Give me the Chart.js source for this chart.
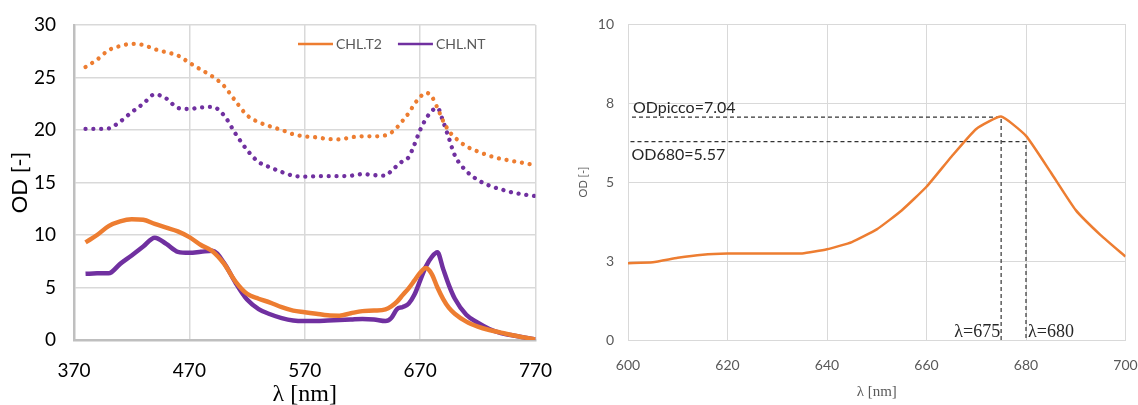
<!DOCTYPE html>
<html><head><meta charset="utf-8">
<script src="https://cdn.jsdelivr.net/npm/chart.js@4.4.1/dist/chart.umd.min.js"></script>
<style>
html,body{margin:0;padding:0;background:#fff;width:1138px;height:405px;overflow:hidden}
#left{position:absolute;left:0;top:0}
#right{position:absolute;left:570px;top:0}
</style></head><body>
<canvas id="left" width="570" height="405"></canvas>
<canvas id="right" width="568" height="405"></canvas>
<script>
// ---------- LEFT CHART DATA ----------
const wlLeft = [380,390,400,410,420,430,440,450,460,470,480,490,500,510,520,530,540,550,560,570,580,590,600,610,620,630,640,
  645,650,655,660,665,670,675,680,685,690,695,700,
  710,720,730,740,750,760,770];
const chlT2 = [9.3,10.0,10.85,11.3,11.5,11.45,11.05,10.7,10.35,9.8,9.05,8.45,7.27,5.57,4.4,3.93,3.57,3.13,2.8,2.65,2.5,2.35,2.32,2.55,2.75,2.8,2.92,
  3.2,3.65,4.3,4.92,5.65,6.4,6.85,6.3,5.0,3.9,3.05,2.5,
  1.75,1.28,0.95,0.7,0.45,0.25,0.05];
const chlNT = [6.3,6.35,6.35,7.25,8.05,8.9,9.75,9.15,8.4,8.3,8.4,8.5,7.35,5.45,3.85,2.95,2.45,2.08,1.85,1.8,1.8,1.85,1.9,1.95,2.0,1.95,1.8,
  2.1,2.95,3.15,3.45,4.3,5.65,7.0,7.9,8.35,6.75,5.2,3.95,
  2.4,1.65,1.05,0.65,0.45,0.25,0.05];
const chlT2Dotted = [26.0,26.7,27.6,28.0,28.2,28.1,27.7,27.4,27.1,26.4,25.75,25.1,24.2,22.75,21.4,20.75,20.35,20.0,19.6,19.4,19.3,19.15,19.1,19.3,19.4,19.4,19.5,
  19.75,20.25,20.9,21.6,22.45,23.15,23.55,23.2,22.1,20.85,19.9,19.3,
  18.45,17.95,17.55,17.25,17.05,16.85,16.65];
const chlNTDotted = [20.1,20.1,20.15,20.8,21.7,22.5,23.4,23.0,22.1,22.0,22.15,22.2,21.4,19.65,18.1,16.95,16.45,16.0,15.65,15.55,15.6,15.6,15.6,15.65,15.8,15.7,15.65,
  16.1,16.6,17.05,17.4,18.6,20.0,21.05,21.8,22.1,20.8,19.2,17.6,
  16.1,15.25,14.7,14.35,14.05,13.85,13.7];
const legendLabels = ['CHL.T2','CHL.NT'];

// ---------- RIGHT CHART DATA ----------
const wlRight = [600,605,610,615,620,625,630,635,640,645,650,655,660,665,670,675,680,685,690,695,700];
const odRight = [2.43,2.46,2.6,2.7,2.74,2.74,2.74,2.74,2.87,3.1,3.5,4.1,4.85,5.8,6.68,7.07,6.46,5.3,4.11,3.32,2.64];
const peakGuideX = [600.8, 675, 675];
const peakGuideY = [7.05, 7.05, 0];
const od680GuideX = [600.5, 680, 680];
const od680GuideY = [6.28, 6.28, 0];
const annotTexts = ['ODpicco=7.04','OD680=5.57','λ=675','λ=680'];

const ORANGE = '#ED7D31', PURPLE = '#7030A0';
const pts = (xs, ys) => xs.map((x,i)=>({x:x, y:ys[i]}));

Chart.defaults.font.family = 'Lato, "Open Sans", sans-serif';

function noPadX(s, h){ s.height = h; s.paddingLeft = 0; s.paddingRight = 0; }
function noPadY(s, w){ s.width = w; s.paddingTop = 0; s.paddingBottom = 0; }

const legendPlugin = {
  id:'customLegend',
  afterDraw(chart){
    const ctx = chart.ctx, a = chart.chartArea;
    ctx.save();
    let x = a.left + 224;
    const y = a.top + 19;
    ctx.font = '14px Lato, sans-serif';
    ctx.textBaseline = 'middle';
    [0,1].forEach((idx)=>{
      const ds = chart.data.datasets[idx];
      ctx.strokeStyle = ds.borderColor; ctx.lineWidth = 2.5;
      ctx.beginPath(); ctx.moveTo(x, y); ctx.lineTo(x+35, y); ctx.stroke();
      ctx.fillStyle = '#595959';
      ctx.fillText(ds.label, x+38, y);
      x += 38 + ctx.measureText(ds.label).width + 16;
    });
    ctx.restore();
  }
};

new Chart(document.getElementById('left'), {
  type:'line',
  data:{datasets:[
    {label:legendLabels[0], data:pts(wlLeft, chlT2), borderColor:ORANGE, borderWidth:4.5, pointRadius:0, cubicInterpolationMode:'monotone'},
    {label:legendLabels[1], data:pts(wlLeft, chlNT), borderColor:PURPLE, borderWidth:4.5, pointRadius:0, cubicInterpolationMode:'monotone'},
    {label:legendLabels[0]+' ', data:pts(wlLeft, chlT2Dotted), borderColor:ORANGE, borderWidth:4.3, pointRadius:0, cubicInterpolationMode:'monotone', borderDash:[0.01,7.8], borderCapStyle:'round'},
    {label:legendLabels[1]+' ', data:pts(wlLeft, chlNTDotted), borderColor:PURPLE, borderWidth:4.3, pointRadius:0, cubicInterpolationMode:'monotone', borderDash:[0.01,7.8], borderCapStyle:'round'}
  ]},
  options:{
    responsive:false, animation:false, devicePixelRatio:1,
    layout:{padding:{top:25,right:34.5,left:0,bottom:0}},
    plugins:{legend:{display:false}, tooltip:{enabled:false}},
    scales:{
      x:{type:'linear', min:370, max:770,
        ticks:{stepSize:100, color:'#000', font:{size:19}, padding:19},
        grid:{color:'#d9d9d9', lineWidth:1.5, drawTicks:false},
        border:{color:'#bfbfbf', width:2.5},
        title:{display:true, text:'λ [nm]', color:'#000', font:{family:'"Liberation Serif", serif', size:24, lineHeight:0.85}, padding:0},
        afterFit(s){ noPadX(s, 65); }
      },
      y:{min:0, max:30,
        ticks:{stepSize:5, color:'#000', font:{size:19}, padding:18},
        grid:{color:'#d9d9d9', lineWidth:1.5, drawTicks:false},
        border:{color:'#bfbfbf', width:2.5},
        title:{display:true, text:'OD [-]', color:'#000', font:{size:22}, padding:{top:7,bottom:0}},
        afterFit(s){ noPadY(s, 74); }
      }
    }
  },
  plugins:[legendPlugin]
});

const annotPlugin = {
  id:'annot',
  afterDatasetsDraw(chart){
    const ctx = chart.ctx, xs = chart.scales.x, ys = chart.scales.y;
    ctx.save();
    ctx.fillStyle = '#262626';
    ctx.font = '16px Lato, sans-serif';
    ctx.textBaseline = 'alphabetic';
    ctx.textAlign = 'left';
    ctx.fillText(annotTexts[0], xs.getPixelForValue(peakGuideX[0]) + 1, ys.getPixelForValue(peakGuideY[0]) - 4);
    ctx.fillText(annotTexts[1], xs.getPixelForValue(od680GuideX[0]) + 1, ys.getPixelForValue(od680GuideY[0]) + 18);
    ctx.font = '18px "Liberation Serif", serif';
    ctx.textAlign = 'right';
    ctx.fillText(annotTexts[2], xs.getPixelForValue(peakGuideX[1]) - 1, ys.getPixelForValue(0) - 3);
    ctx.textAlign = 'left';
    ctx.fillText(annotTexts[3], xs.getPixelForValue(od680GuideX[1]) + 2, ys.getPixelForValue(0) - 3);
    ctx.restore();
  }
};

new Chart(document.getElementById('right'), {
  type:'line',
  data:{datasets:[
    {label:'OD', data:pts(wlRight, odRight), borderColor:ORANGE, borderWidth:2.5, pointRadius:0, tension:0.15},
    {label:'peak', data:pts(peakGuideX, peakGuideY), borderColor:'#333', borderWidth:1.2, borderDash:[4,3], pointRadius:0, tension:0},
    {label:'od680', data:pts(od680GuideX, od680GuideY), borderColor:'#333', borderWidth:1.2, borderDash:[4,3], pointRadius:0, tension:0}
  ]},
  options:{
    responsive:false, animation:false, devicePixelRatio:1,
    layout:{padding:{top:24,right:12.5,left:0,bottom:0}},
    plugins:{legend:{display:false}, tooltip:{enabled:false}},
    scales:{
      x:{type:'linear', min:600, max:700,
        ticks:{stepSize:20, color:'#595959', font:{size:14}, padding:17},
        grid:{color:'#d9d9d9', lineWidth:1, drawTicks:false},
        border:{color:'#d9d9d9', width:1},
        title:{display:true, text:'λ [nm]', color:'#595959', font:{family:'"Liberation Serif", serif', size:15}, padding:{top:0,bottom:4}},
        afterFit(s){ noPadX(s, 65); }
      },
      y:{min:0, max:10,
        ticks:{stepSize:2.5, color:'#595959', font:{size:14}, padding:14, callback:(v)=>Math.round(v)},
        grid:{color:'#d9d9d9', lineWidth:1, drawTicks:false},
        border:{color:'#d9d9d9', width:1},
        title:{display:true, text:'OD [-]', color:'#595959', font:{size:11}, padding:{top:7,bottom:0}},
        afterFit(s){ noPadY(s, 58); }
      }
    }
  },
  plugins:[annotPlugin]
});
</script>
</body></html>
